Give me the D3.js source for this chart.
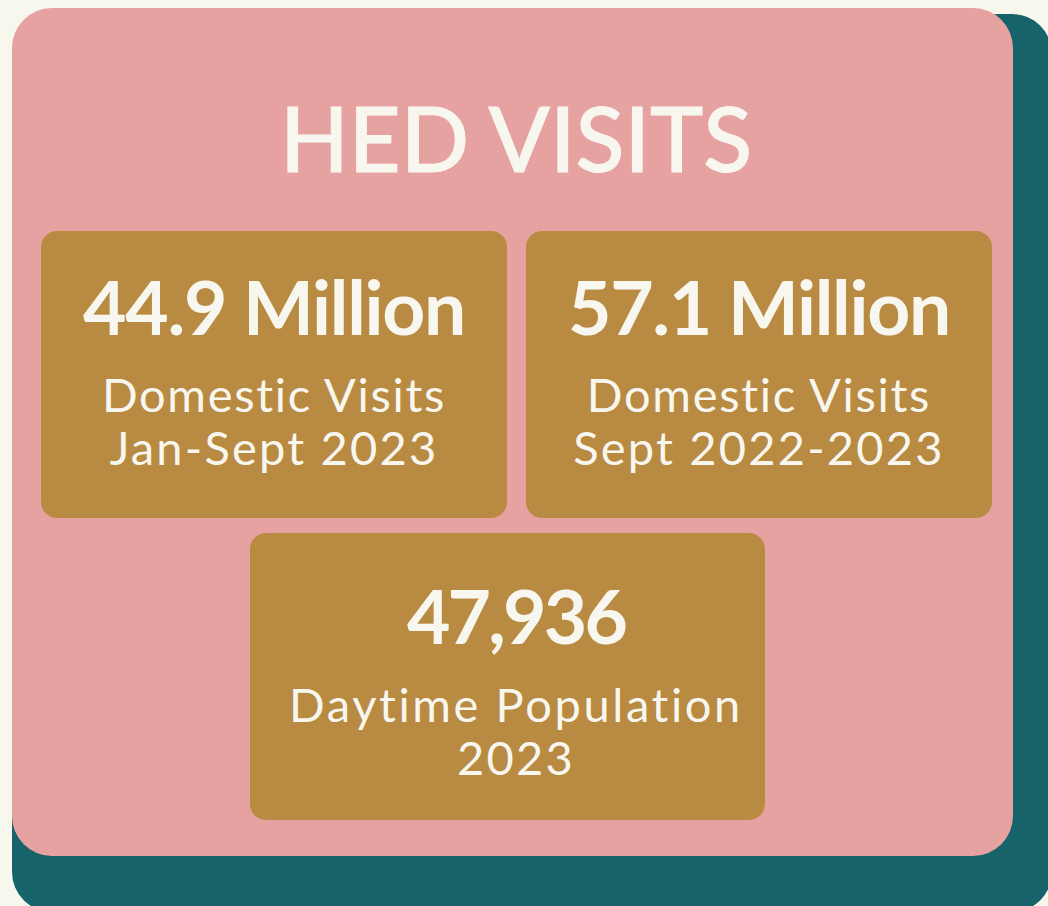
<!DOCTYPE html>
<html>
<head>
<meta charset="utf-8">
<script src="https://cdn.jsdelivr.net/npm/d3@7"></script>
<style>
  html, body { margin: 0; padding: 0; background: #f7f7ee; }
  svg { display: block; }
  text { font-family: "Lato", "Noto Sans", sans-serif; fill: #f8f7ef; }
</style>
</head>
<body>
<div id="js-canvas"></div>
<script>
"use strict";

// Headline numbers shown on each tile.
const figures = ["44.9 Million", "57.1 Million", "47,936"];

// Two-line captions under each number.
const captionTop = ["Domestic Visits", "Domestic Visits", "Daytime Population"];
const captionBottom = ["Jan-Sept 2023", "Sept 2022-2023", "2023"];

// Which row each tile sits in.
const rows = [0, 0, 1];

const title = "HED VISITS";

const width = 1048;
const height = 906;

const svg = d3.select("#js-canvas")
  .append("svg")
    .attr("width", width)
    .attr("height", height);

// Teal backdrop peeking out to the right and below the card.
svg.append("rect")
  .attr("x", 12).attr("y", 14)
  .attr("width", 1040).attr("height", 898)
  .attr("rx", 40)
  .attr("fill", "#16646a");

// Pink card.
svg.append("rect")
  .attr("x", 12).attr("y", 8)
  .attr("width", 1001).attr("height", 848)
  .attr("rx", 40)
  .attr("fill", "#e6a2a0");

svg.append("text")
  .attr("x", 516)
  .attr("y", 172)
  .attr("text-anchor", "middle")
  .style("font-size", "90px")
  .style("font-weight", 500)
  .style("stroke", "#f8f7ef")
  .style("stroke-width", "1px")
  .text(title);

const colX = d3.scaleBand()
  .domain([0, 1])
  .range([41, 992])
  .paddingInner(0.039);

const rowY = d3.scaleBand()
  .domain([0, 1])
  .range([231, 820])
  .paddingInner(0.05);

const tiles = figures.map(function (f, i) {
  return {
    figure: f,
    top: captionTop[i],
    bottom: captionBottom[i],
    row: rows[i],
    col: i
  };
});

function tileX(d) {
  if (d.row === 0) return colX(d.col);
  return 250;
}

function tileW(d) {
  if (d.row === 0) return colX.bandwidth();
  return 515;
}

// Text in the lower tile sits a bit right of its centre.
function textCx(d) {
  if (d.row === 0) return tileX(d) + tileW(d) / 2;
  return 516;
}

const g = svg.append("g")
  .selectAll("g")
  .data(tiles)
  .enter()
  .append("g")
    .attr("transform", function (d) {
      return "translate(0," + rowY(d.row) + ")";
    });

g.append("rect")
  .attr("x", tileX)
  .attr("width", tileW)
  .attr("height", rowY.bandwidth())
  .attr("rx", 16)
  .attr("fill", "#b98a41");

g.append("text")
  .attr("x", textCx)
  .attr("y", function (d) { return d.row === 0 ? 104 : 111; })
  .attr("text-anchor", "middle")
  .style("font-size", "75px")
  .style("font-weight", 700)
  .style("letter-spacing", function (d) { return d.row === 0 ? "-1.3px" : "-2.8px"; })
  .text(function (d) { return d.figure; });

g.append("text")
  .attr("x", textCx)
  .attr("y", function (d) { return d.row === 0 ? 181 : 189; })
  .attr("text-anchor", "middle")
  .style("font-size", "47px")
  .style("letter-spacing", function (d) { return d.row === 0 ? "1.7px" : "2.6px"; })
  .text(function (d) { return d.top; });

g.append("text")
  .attr("x", textCx)
  .attr("y", function (d) { return d.row === 0 ? 234 : 242; })
  .attr("text-anchor", "middle")
  .style("font-size", "47px")
  .style("letter-spacing", "2.2px")
  .text(function (d) { return d.bottom; });
</script>
</body>
</html>
